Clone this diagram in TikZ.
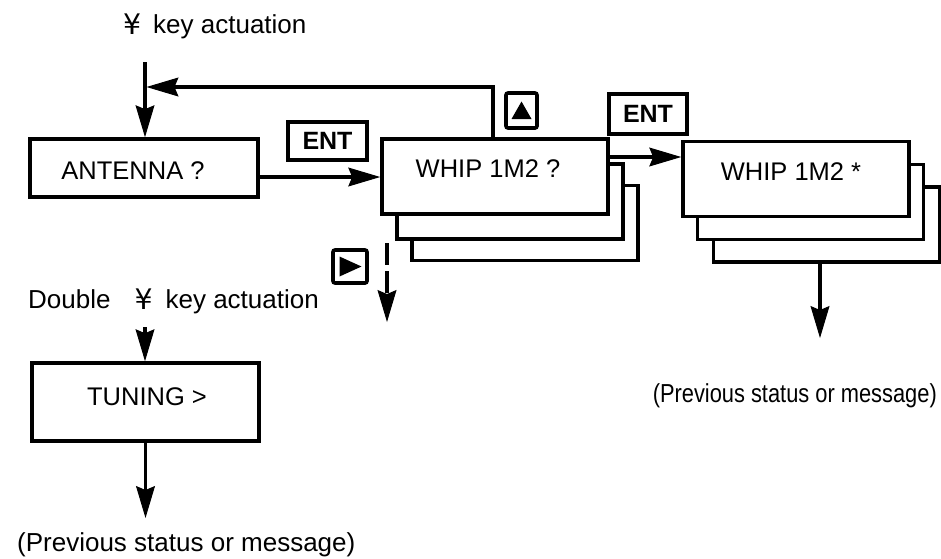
\documentclass[tikz,border=0pt]{standalone}
\usepackage{fontspec}
\usepackage{graphicx}
\setmainfont{Liberation Sans}
\newfontfamily\yenfont{DejaVu Sans}
\newcommand{\yensign}{\raisebox{-1pt}{\scalebox{1.35}{\yenfont\fontsize{21}{25}\selectfont ¥}}}
\usetikzlibrary{arrows.meta}
\begin{document}
\begin{tikzpicture}[x=1pt,y=-1pt,
  panel/.style={draw, line width=3.6pt, fill=white, inner sep=0pt,
                minimum width=226pt, minimum height=75pt},
  boxtext/.style={inner sep=0pt, font=\fontsize{25.5}{30}\selectfont},
  lbl/.style={inner sep=0pt, font=\fontsize{26}{31}\selectfont},
  entkey/.style={draw, line width=3.6pt, inner sep=0pt,
                 font=\bfseries\fontsize{25}{30}\selectfont},
  keycap/.style={draw, line width=3.6pt, rounded corners=2pt, inner sep=0pt},
  conn/.style={line width=3.2pt},
  arr/.style={conn, -{Stealth[length=32pt,width=19pt,inset=4pt,line width=1pt]}}
]
\useasboundingbox (0,0) rectangle (941,558);

% ---- labels
\node[lbl, anchor=base west] (keyact) at (123,33)
  {\yensign\hspace{12pt}key actuation};
\node[lbl, anchor=base west] (dblact) at (28,308)
  {Double\hspace{24pt}\yensign\hspace{13pt}key actuation};
\node[lbl, anchor=base west] (prevL) at (17,551) {(Previous status or message)};
\node[lbl, anchor=base east] (prevR) at (937,402)
  {\scalebox{0.84}[1]{(Previous status or message)}};

% ---- ANTENNA ?
\node[panel, minimum width=228pt, minimum height=58pt] (antenna) at (144,168) {};
\node[boxtext] (antennatxt) at (133,171) {ANTENNA ?};

% ---- WHIP 1M2 ? stack (back to front)
\node[panel] (whipC) at (525,223) {};
\node[panel] (whipB) at (510,201.5) {};
\node[panel] (whipA) at (495,176.5) {};
\node[boxtext] (whiptxt) at (488,169) {WHIP 1M2 ?};

% ---- WHIP 1M2 * stack (back to front)
\node[panel] (starC) at (826.5,224.5) {};
\node[panel] (starB) at (810.5,202) {};
\node[panel] (starA) at (796,179) {};
\node[boxtext] (startxt) at (791,172) {WHIP 1M2 *};

% ---- TUNING >
\node[panel, minimum width=227pt, minimum height=78pt] (tuning) at (145.5,402) {};
\node[boxtext] (tuningtxt) at (147,397) {TUNING >};

% ---- key caps
\node[entkey, minimum width=79pt, minimum height=38pt] (ent1) at (327.5,141) {ENT};
\node[entkey, minimum width=78pt, minimum height=40pt] (ent2) at (648,114) {ENT};
\node[keycap, minimum width=31pt, minimum height=35pt] (upkey) at (521.5,110.5) {};
\fill[shift={(upkey.center)}] (0,-9) -- (10,8.5) -- (-10,8.5) -- cycle;
\node[keycap, minimum width=34pt, minimum height=33pt] (rightkey) at (350,266.5) {};
\fill[shift={(rightkey.center)}] (11.5,0) -- (-10.5,-10) -- (-10.5,10) -- cycle;

% ---- connector end points
\coordinate (topstart) at (145,62);
\coordinate (loopcorner) at (493,87);
\coordinate (loopend) at (146.5,87);
\coordinate (dashtop) at (387,243);
\coordinate (dashend) at (387,322);
\coordinate (dbltop) at (145,327);
\coordinate (tunend) at (145.5,518);
\coordinate (starend) at (820,338);

% ---- connectors
\draw[arr] (topstart) -- (antenna.north -| topstart);
\draw[arr] (whipA.north -| loopcorner) -- (loopcorner) -- (loopend);
\draw[arr] (antenna.east |- 0,177) -- (whipA.west |- 0,177);
\draw[arr] (whipA.east |- 0,157) -- (starA.west |- 0,157);
\draw[arr, dash pattern=on 22pt off 6pt] (dashtop) -- (dashend);
\draw[arr] (dbltop) -- (tuning.north -| dbltop);
\draw[arr] (tuning.south) -- (tunend);
\draw[arr] (starC.south -| starend) -- (starend);
\end{tikzpicture}
\end{document}
